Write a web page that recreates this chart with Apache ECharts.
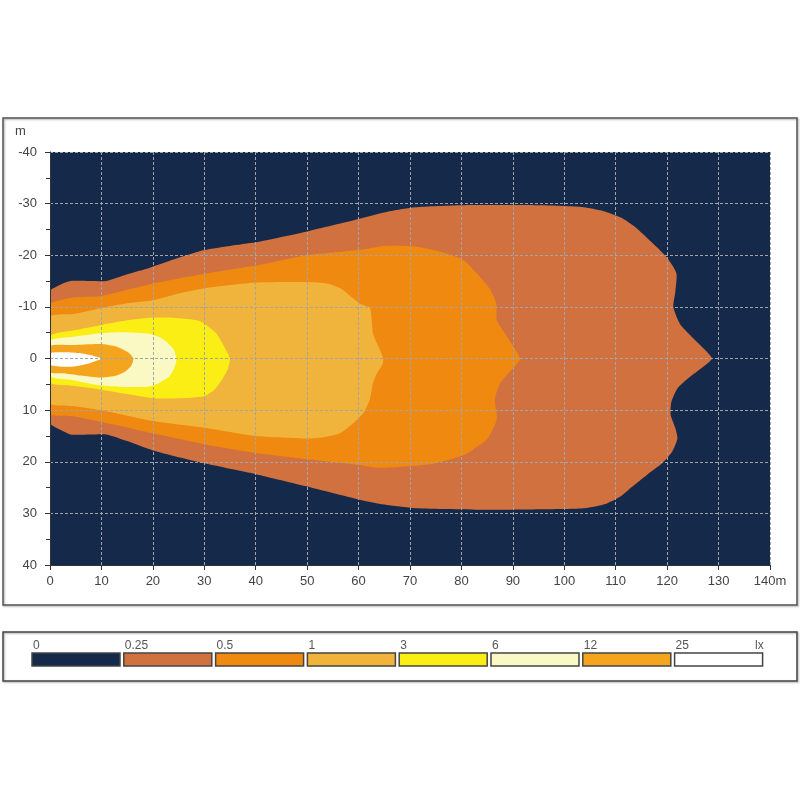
<!DOCTYPE html>
<html><head><meta charset="utf-8">
<script src="https://cdn.jsdelivr.net/npm/echarts@6/dist/echarts.min.js"></script>
<style>html,body{margin:0;padding:0;background:#fff}#c{width:800px;height:800px}</style>
</head><body><div id="c"></div>
<script>
// ---- data ----
const levelLabels = ['0', '0.25', '0.5', '1', '3', '6', '12', '25'];
const unitLabel = 'lx';
const levelColors = ['#15294a', '#d1713f', '#f0890f', '#f0b33b', '#fbee14', '#fbf9c3', '#f5a51d', '#ffffff'];
const axisUnit = 'm';

// iso-lux contours [distance m, lateral m]
const contour025 = [
  [0,-13],[2,-14.3],[4,-15],[8,-15],[11,-15],[15,-16.3],[19.4,-17.6],[25,-19.5],[30,-21],[35,-21.8],[40,-22.5],
  [50,-24.6],[60,-27],[66,-28.5],[71,-29.3],[80,-29.7],[95,-29.7],[103,-29.4],[107,-28.7],[111,-27.3],[114,-25.3],
  [117,-22.5],[120,-19.5],[121.8,-16.5],[121.6,-13],[121.2,-10],[122.5,-6.7],[124.5,-4.5],[126.5,-2.5],[128.7,0],
  [126.5,2],[124.4,3.6],[122,5.8],[120.8,8.5],[120.7,11],[121.6,13.5],[122,15.5],[121,18],[119,20.3],[116,22.6],
  [113,25],[111,26.7],[108,28.2],[104,29],[96,29.2],[85,29.3],[71,29],[65,28.3],[60,27.3],[50,24.8],[40,22.4],
  [30,20.3],[20,17.8],[15,16],[11,14.7],[8,14.7],[4,14.7],[2,13.8],[0,12.5]
];
const contour05 = [
  [0,-10.5],[2,-11.3],[4.5,-11.8],[10,-12.1],[15,-13.3],[20,-14.5],[30,-16.4],[40,-18],[50,-20],[60,-21],[65,-21.8],
  [71,-21.7],[77,-20.4],[80.5,-19],[83,-16.5],[85.5,-13.5],[86.8,-10.6],[86.9,-7.3],[88.5,-4.8],[90,-2.5],[91.4,0],
  [90.8,1],[89,3],[87.5,4.8],[86.5,7.9],[86.9,11.7],[85,15.6],[82,17.8],[80,18.9],[74,20.5],[64,21.2],[60,20.6],
  [50,19.5],[40,18.3],[30,16.6],[20,14.5],[11,12.5],[4.5,11.2],[0,10.6]
];
const contour1 = [
  [0,-8],[4.5,-8.6],[10,-9.8],[15,-10.7],[20,-11.3],[25,-12.6],[30,-13.6],[40,-14.7],[50,-14.8],[54,-14.5],
  [56.5,-13.6],[58.5,-12],[60.3,-10.6],[62.2,-9.8],[62.6,-7],[62.8,-4.8],[63.8,-2.5],[64.8,0],
  [64.7,1],[63.5,3],[62.8,4.8],[62.2,7.9],[61,10.5],[59,12.5],[56.4,14.5],[53,15.3],[50,15.5],[40,15],
  [30,13.4],[20,12.1],[11,10.2],[4.5,9.2],[0,8.6]
];
const contour3 = [
  [0,-4.3],[4.5,-5.4],[10,-6.5],[15,-7.4],[19.4,-7.9],[24,-7.9],[29,-7.3],[31,-6],[32.4,-4.8],[33.6,-2.8],[34.6,-0.9],[35,0],
  [34.6,2],[33.5,4],[32,6],[30,7.3],[25,7.7],[20,7.7],[15,6.9],[9.7,6],[4.5,5.3],[0,4.6]
];
const contour6 = [
  [0,-3.4],[4.5,-4.2],[9.7,-4.9],[14.2,-5.1],[19.4,-4.8],[21.5,-4],[22.7,-3.2],[24,-1.8],[24.6,0],
  [24.2,1.8],[23.2,3.5],[21.5,4.6],[19.4,5.4],[14.2,5.5],[9.7,5.2],[4.5,4.2],[0,3.4]
];
const contour12 = [
  [0,-2.4],[4.5,-2.6],[9.7,-2.8],[13,-2.3],[15.2,-1.2],[16.2,0],
  [15.8,1.4],[14.5,2.6],[12.5,3.4],[9.7,3.7],[6,3.3],[3,2.9],[0,2.6]
];
const contour25 = [
  [0,-1],[3,-1.2],[6,-1],[8.5,-0.5],[10,0],[8,0.8],[5,1.5],[3,1.6],[0,1.2]
];
const contours = [contour025, contour05, contour1, contour3, contour6, contour12, contour25];

// ---- chart ----
const chart = echarts.init(document.getElementById('c'), null, {renderer: 'canvas'});
const font = "'Liberation Sans', Arial, sans-serif";
const gridColor = '#a2a4a8';

const graphics = [];
graphics.push({type: 'rect', z: -10, shape: {x: 3, y: 118, width: 794, height: 487},
  style: {fill: 'none', stroke: '#555', lineWidth: 1.5, shadowBlur: 2, shadowColor: 'rgba(0,0,0,0.35)', shadowOffsetX: 1, shadowOffsetY: 1}});
graphics.push({type: 'rect', z: -10, shape: {x: 3, y: 632, width: 794, height: 49},
  style: {fill: 'none', stroke: '#444', lineWidth: 1.5, shadowBlur: 2, shadowColor: 'rgba(0,0,0,0.35)', shadowOffsetX: 1, shadowOffsetY: 1}});
graphics.push({type: 'text', x: 15, y: 125, style: {text: axisUnit, fill: '#444', font: '13px ' + font}});
levelLabels.forEach((lab, i) => {
  const x0 = 32 + i * 91.8;
  graphics.push({type: 'rect', shape: {x: x0, y: 653, width: 88, height: 13},
    style: {fill: levelColors[i], stroke: '#444', lineWidth: 1.5}});
  graphics.push({type: 'text', x: x0 + 1, y: 640, style: {text: lab, fill: '#555', font: '12px ' + font}});
});
graphics.push({type: 'text', x: 755, y: 640, style: {text: unitLabel, fill: '#555', font: '12px ' + font}});

const option = {
  animation: false,
  backgroundColor: '#fff',
  grid: {left: 50, top: 152, width: 720, height: 413, show: true, backgroundColor: levelColors[0], borderWidth: 0},
  xAxis: {
    type: 'value', min: 0, max: 140, interval: 10, z: 5,
    axisLine: {show: true, onZero: false, lineStyle: {color: '#333', width: 1}},
    axisTick: {show: true, length: 5, lineStyle: {color: '#333'}},
    axisLabel: {color: '#444', fontSize: 13, fontFamily: font, margin: 10,
      formatter: v => (v === 140 ? '140' + axisUnit : String(v))},
    splitLine: {show: true, lineStyle: {color: gridColor, type: [3, 2], width: 1}}
  },
  yAxis: {
    type: 'value', min: -40, max: 40, interval: 10, inverse: true, z: 5,
    axisLine: {show: true, onZero: false, lineStyle: {color: '#333', width: 1}},
    axisTick: {show: true, length: 5, lineStyle: {color: '#333'}},
    minorTick: {show: true, splitNumber: 2, length: 4, lineStyle: {color: '#333'}},
    axisLabel: {color: '#444', fontSize: 13, fontFamily: font, margin: 13},
    splitLine: {show: true, lineStyle: {color: gridColor, type: [3, 2], width: 1}}
  },
  series: [{
    type: 'custom', z: 2, clip: true,
    data: contours.map((c, i) => [i]),
    renderItem: (params, api) => {
      const idx = params.dataIndex;
      const pts = contours[idx].map(p => api.coord(p));
      return {type: 'polygon', shape: {points: pts, smooth: 0.2},
        style: {fill: levelColors[idx + 1], stroke: null}};
    }
  }],
  graphic: graphics
};
chart.setOption(option);
</script>
</body></html>
